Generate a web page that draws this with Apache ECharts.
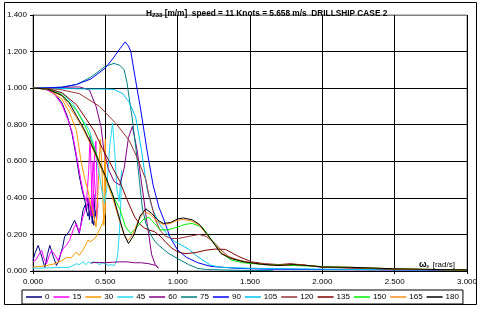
<!DOCTYPE html>
<html>
<head>
<meta charset="utf-8">
<script src="https://cdn.jsdelivr.net/npm/echarts@6/dist/echarts.min.js"></script>
<style>
html,body{margin:0;padding:0;background:#fff;}
#chart{width:480px;height:309px;}
</style>
</head>
<body>
<div id="chart"></div>
<script>
// heave RAO vs encounter frequency, one [we, H] list per heading
let headings = ['0', '15', '30', '45', '60', '75', '90', '105', '120', '135', '150', '165', '180'];
let colors = ['#000080', '#ff00ff', '#ff9900', '#22d8f0', '#800080', '#008080', '#0000ff', '#00c0f0', '#993333', '#800000', '#00ee00', '#ff8c1a', '#000000'];

let h0 = [[0,1],[0.05,0.999],[0.1,0.99],[0.15,0.97],[0.2,0.92],[0.24,0.84],[0.27,0.75],[0.3,0.62],[0.32,0.52],[0.34,0.44],[0.36,0.38],[0.37,0.33],[0.38,0.4],[0.39,0.28],[0.4,0.36],[0.41,0.26],[0.42,0.42],[0.43,0.3],[0.433,0.33],
	[0.42,0.25],[0.4,0.34],[0.38,0.3],[0.36,0.36],[0.345,0.33],[0.33,0.25],[0.32,0.205],[0.305,0.24],[0.288,0.277],[0.27,0.25],[0.253,0.22],[0.235,0.2],[0.219,0.19],[0.205,0.13],[0.197,0.11],[0.18,0.06],[0.162,0.03],[0.14,0.08],[0.116,0.14],[0.1,0.09],[0.082,0.02],[0.06,0.08],[0.036,0.14],[0.015,0.1],[0,0.058]];
let h15 = [[0,1],[0.05,0.999],[0.1,0.99],[0.15,0.965],[0.2,0.91],[0.24,0.83],[0.27,0.76],[0.29,0.68],[0.31,0.59],[0.33,0.5],[0.35,0.42],[0.37,0.38],[0.385,0.55],[0.395,0.74],[0.405,0.45],[0.415,0.3],[0.425,0.62],[0.435,0.71],[0.445,0.4],[0.449,0.36],
	[0.44,0.28],[0.43,0.45],[0.415,0.6],[0.4,0.3],[0.385,0.4],[0.368,0.35],[0.345,0.295],[0.32,0.21],[0.3,0.26],[0.28,0.23],[0.253,0.168],[0.23,0.14],[0.208,0.122],[0.19,0.09],[0.173,0.058],[0.15,0.09],[0.128,0.113],[0.11,0.08],[0.094,0.04],[0.075,0.07],[0.06,0.113],[0.04,0.09],[0.02,0.06],[0,0.05]];
let h30 = [[0,1],[0.1,0.995],[0.2,0.94],[0.25,0.87],[0.3,0.77],[0.33,0.61],[0.356,0.51],[0.38,0.44],[0.4,0.36],[0.42,0.3],[0.436,0.24],[0.45,0.45],[0.465,0.72],[0.475,0.6],[0.485,0.35],[0.49,0.25],[0.495,0.6],[0.5,0.72],[0.502,0.5],
	[0.5,0.315],[0.48,0.26],[0.436,0.186],[0.4,0.16],[0.38,0.168],[0.345,0.113],[0.32,0.086],[0.3,0.104],[0.265,0.073],[0.23,0.073],[0.197,0.055],[0.14,0.037],[0.07,0.027],[0,0.022]];
let h45 = [[0,1],[0.1,0.997],[0.2,0.975],[0.28,0.91],[0.34,0.83],[0.39,0.77],[0.43,0.66],[0.46,0.52],[0.48,0.42],[0.495,0.37],[0.51,0.45],[0.53,0.68],[0.55,0.81],[0.565,0.65],[0.58,0.45],[0.595,0.38],[0.607,0.5],[0.613,0.55],
	[0.605,0.33],[0.596,0.2],[0.585,0.09],[0.575,0.045],[0.56,0.03],[0.54,0.035],[0.52,0.03],[0.5,0.04],[0.48,0.045],[0.46,0.035],[0.44,0.045],[0.42,0.05],[0.4,0.04],[0.385,0.05],[0.365,0.035],[0.345,0.05],[0.32,0.035],[0.3,0.04],[0.276,0.03],[0.25,0.02],[0.2,0.02],[0.1,0.017],[0,0.015]];
let h60 = [[0,1],[0.1,1.0],[0.2,1.004],[0.32,1.007],[0.39,0.99],[0.436,0.9],[0.47,0.79],[0.49,0.66],[0.52,0.56],[0.56,0.49],[0.6,0.47],[0.63,0.56],[0.66,0.73],[0.687,0.79],[0.72,0.66],[0.745,0.51],[0.765,0.4],[0.785,0.28],[0.8,0.2],[0.82,0.09],[0.845,0.035],[0.867,0.015],
	[0.85,0.03],[0.8,0.04],[0.75,0.045],[0.7,0.045],[0.65,0.05],[0.6,0.05],[0.55,0.048],[0.5,0.045],[0.45,0.047],[0.4,0.045]];
let h75 = [[0,1],[0.2,1.005],[0.3,1.02],[0.4,1.06],[0.45,1.09],[0.5,1.12],[0.56,1.135],[0.6,1.125],[0.63,1.1],[0.65,1.03],[0.664,0.95],[0.685,0.84],[0.71,0.68],[0.735,0.5],[0.755,0.35],[0.78,0.26],[0.82,0.19],[0.85,0.155],[0.9,0.12],[0.94,0.095],[1.0,0.068],[1.075,0.035],[1.14,0.014],[1.2,0.008],[1.4,0.004],[1.66,0.002]];
let h90 = [[0,1],[0.2,1.005],[0.3,1.02],[0.4,1.05],[0.5,1.11],[0.56,1.17],[0.6,1.215],[0.637,1.253],[0.66,1.23],[0.676,1.2],[0.71,1.04],[0.745,0.88],[0.79,0.65],[0.83,0.47],[0.87,0.35],[0.9,0.29],[0.95,0.18],[1.0,0.115],[1.06,0.075],[1.14,0.045],[1.23,0.025],[1.4,0.015],[1.6,0.01],[2.0,0.008],[3.0,0.004]];
let h105 = [[0,1],[0.2,0.998],[0.4,0.995],[0.5,0.995],[0.56,0.993],[0.62,0.97],[0.664,0.925],[0.71,0.84],[0.75,0.66],[0.79,0.44],[0.83,0.33],[0.88,0.25],[0.93,0.2],[0.98,0.16],[1.007,0.15],[1.075,0.12],[1.14,0.077],[1.23,0.031],[1.3,0.02],[1.5,0.015],[2.0,0.01],[3.0,0.005]];
let h120 = [[0,1],[0.1,0.998],[0.185,0.993],[0.32,0.97],[0.46,0.9],[0.573,0.807],[0.664,0.715],[0.72,0.62],[0.78,0.5],[0.8,0.42],[0.847,0.28],[0.88,0.22],[0.916,0.19],[0.96,0.178],[1.007,0.178],[1.08,0.19],[1.15,0.2],[1.2,0.188],[1.26,0.15],[1.3,0.115],[1.35,0.08],[1.42,0.06],[1.5,0.045],[1.6,0.035],[1.7,0.03],[1.8,0.036],[1.9,0.03],[2.0,0.02],[2.5,0.01],[3.0,0.005]];
let h135 = [[0,1],[0.1,0.997],[0.2,0.975],[0.3,0.91],[0.36,0.84],[0.42,0.77],[0.48,0.67],[0.54,0.58],[0.6,0.49],[0.65,0.39],[0.7,0.3],[0.733,0.26],[0.77,0.235],[0.8,0.225],[0.84,0.215],[0.88,0.19],[0.92,0.155],[0.96,0.125],[1.0,0.105],[1.05,0.095],[1.12,0.1],[1.19,0.113],[1.26,0.12],[1.33,0.118],[1.42,0.08],[1.51,0.05],[1.6,0.04],[1.7,0.035],[1.78,0.04],[1.9,0.03],[2.0,0.022],[2.5,0.01],[3.0,0.005]];
let h150 = [[0,1],[0.1,0.995],[0.2,0.965],[0.3,0.88],[0.35,0.81],[0.38,0.76],[0.42,0.68],[0.47,0.57],[0.52,0.47],[0.56,0.4],[0.6,0.34],[0.64,0.24],[0.676,0.205],[0.72,0.24],[0.76,0.28],[0.8,0.295],[0.84,0.26],[0.88,0.225],[0.93,0.225],[1.0,0.24],[1.05,0.255],[1.1,0.26],[1.17,0.24],[1.24,0.165],[1.3,0.1],[1.37,0.06],[1.45,0.045],[1.6,0.035],[1.8,0.03],[2.0,0.025],[2.5,0.012],[3.0,0.005]];
let h165 = [[0,1],[0.1,0.995],[0.2,0.958],[0.3,0.84],[0.35,0.77],[0.4,0.69],[0.45,0.6],[0.5,0.51],[0.55,0.4],[0.6,0.27],[0.63,0.2],[0.655,0.165],[0.69,0.2],[0.73,0.28],[0.77,0.325],[0.81,0.31],[0.86,0.27],[0.9,0.255],[0.95,0.26],[1.0,0.278],[1.04,0.282],[1.1,0.272],[1.15,0.25],[1.2,0.2],[1.26,0.14],[1.3,0.1],[1.37,0.07],[1.46,0.05],[1.58,0.038],[1.7,0.03],[1.8,0.036],[1.9,0.03],[2.0,0.022],[2.2,0.02],[2.5,0.012],[2.8,0.008],[3.0,0.006]];
let h180 = [[0,1],[0.1,0.995],[0.2,0.96],[0.25,0.92],[0.3,0.85],[0.35,0.78],[0.4,0.7],[0.45,0.61],[0.5,0.52],[0.55,0.42],[0.6,0.28],[0.63,0.2],[0.66,0.15],[0.7,0.2],[0.74,0.3],[0.78,0.34],[0.82,0.315],[0.86,0.28],[0.9,0.26],[0.95,0.265],[1.0,0.285],[1.04,0.29],[1.1,0.28],[1.15,0.255],[1.2,0.205],[1.26,0.14],[1.3,0.095],[1.37,0.068],[1.46,0.05],[1.58,0.037],[1.7,0.03],[1.8,0.035],[1.9,0.03],[2.0,0.022],[2.2,0.02],[2.5,0.012],[2.8,0.008],[3.0,0.006]];

let rao = [h0, h15, h30, h45, h60, h75, h90, h105, h120, h135, h150, h165, h180];
let fontName = 'Arial, "Liberation Sans", sans-serif';

let seriesList = [];
for (let i in headings) {
	seriesList.push({
		name: headings[i],
		type: 'line',
		data: rao[i],
		symbol: 'none',
		lineStyle: { width: 1, color: colors[i] },
		itemStyle: { color: colors[i] }
	});
}

let chart = echarts.init(document.getElementById('chart'));
chart.setOption({
	animation: false,
	backgroundColor: '#fff',
	title: {
		text: '{b|H}{s|Z33}{b| [m/m]  speed = 11 Knots = 5.658 m/s  DRILLSHIP CASE 2}',
		left: 141,
		top: 4,
		textStyle: {
			rich: {
				b: { fontFamily: fontName, fontSize: 8.3, fontWeight: 'bold', color: '#000' },
				s: { fontFamily: fontName, fontSize: 6, fontWeight: 'bold', color: '#000', verticalAlign: 'bottom', padding: [3, 0, 0, 0] }
			}
		}
	},
	grid: {
		left: 33, right: 9, top: 15, bottom: 38,
		show: true, borderColor: '#808080', borderWidth: 1
	},
	legend: {
		data: headings,
		icon: 'rect',
		left: 22,
		top: 290,
		padding: [3, 4, 3, 4],
		borderColor: '#000',
		borderWidth: 1,
		itemWidth: 16,
		itemHeight: 1.5,
		itemGap: 4,
		textStyle: { fontFamily: fontName, fontSize: 8, color: '#000', padding: [0, 0, 0, -2] }
	},
	xAxis: {
		type: 'value', min: 0, max: 3, interval: 0.5,
		axisLine: { show: true, lineStyle: { color: '#000' } },
		axisTick: { show: true, length: 3, lineStyle: { color: '#000' } },
		axisLabel: { fontFamily: fontName, fontSize: 8, color: '#000', margin: 7, formatter: function (v) { return v.toFixed(3); } },
		splitLine: { show: true, lineStyle: { color: '#000', width: 1 } }
	},
	yAxis: {
		type: 'value', min: 0, max: 1.4, interval: 0.2,
		axisLine: { show: true, lineStyle: { color: '#000' } },
		axisTick: { show: true, length: 3, lineStyle: { color: '#000' } },
		axisLabel: { fontFamily: fontName, fontSize: 8, color: '#000', margin: 6, formatter: function (v) { return v.toFixed(3); } },
		splitLine: { show: true, lineStyle: { color: ['#000', '#000', '#000', '#000', '#000', '#000', '#000', '#808080'], width: 1 } }
	},
	graphic: [
		{
			type: 'rect', silent: true,
			shape: { x: 4.5, y: 2.5, width: 472, height: 302 },
			style: { fill: null, stroke: '#000', lineWidth: 1 }
		},
		{
			type: 'text', left: 419, top: 259, silent: true,
			style: {
				text: '{w|ω}{e|e} {t|[rad/s]}',
				rich: {
					w: { fontFamily: fontName, fontSize: 9, fontWeight: 'bold', color: '#000' },
					e: { fontFamily: fontName, fontSize: 5, color: '#000', padding: [4, 0, 0, 0] },
					t: { fontFamily: fontName, fontSize: 8, color: '#000' }
				}
			}
		}
	],
	series: seriesList
});
</script>
</body>
</html>
